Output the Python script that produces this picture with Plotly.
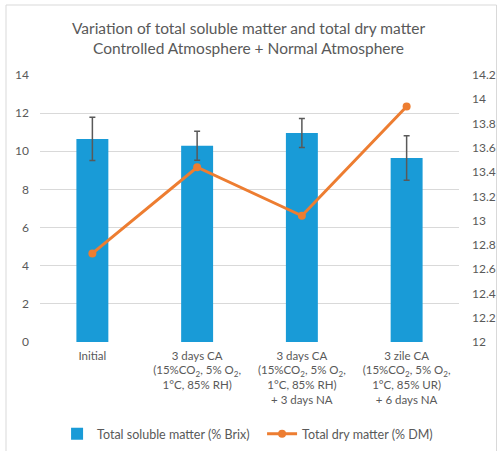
import plotly.graph_objects as go

categories = [
    "Initial",
    "3 days CA<br>(15%CO<sub>2</sub>, 5% O<sub>2</sub>,<br>1°C, 85% RH)",
    "3 days CA<br>(15%CO<sub>2</sub>, 5% O<sub>2</sub>,<br>1°C, 85% RH)<br>+ 3 days NA",
    "3 zile CA<br>(15%CO<sub>2</sub>, 5% O<sub>2</sub>,<br>1°C, 85% UR)<br>+ 6 days NA",
]
soluble = [10.65, 10.29, 10.96, 9.65]
soluble_err = [1.13, 0.76, 0.76, 1.17]
dry = [12.73, 13.44, 13.04, 13.94]

FONT = "Lato"
GRAY = "#595959"
x = [0, 1, 2, 3]

fig = go.Figure()
fig.add_trace(go.Bar(
    x=x, y=soluble, name="Total soluble matter (% Brix)",
    marker=dict(color="#199BD7", line=dict(width=0)),
    width=0.305,
    error_y=dict(type="data", array=soluble_err, color=GRAY, thickness=1.5, width=3),
))
fig.add_trace(go.Scatter(
    x=x, y=dry, name="Total dry matter (% DM)", yaxis="y2",
    mode="lines+markers",
    line=dict(color="#ED7D31", width=3),
    marker=dict(color="#ED7D31", size=8),
))

fig.update_layout(
    width=497, height=451,
    margin=dict(l=40, r=38, t=75, b=109, autoexpand=False),
    paper_bgcolor="white", plot_bgcolor="white",
    font=dict(family=FONT, color=GRAY, size=11),
    title=dict(
        text="Variation of total soluble matter and total dry matter<br>Controlled Atmosphere + Normal Atmosphere",
        x=0.5, xanchor="center", y=1 - 34 / 451, yanchor="top", yref="container",
        font=dict(family=FONT, size=15.5, color=GRAY), automargin=False,
    ),
    xaxis=dict(
        tickmode="array", tickvals=x, ticktext=categories,
        range=[-0.5, 3.5], showgrid=False, showline=False, zeroline=False,
        ticks="", tickfont=dict(size=11.5, color=GRAY), automargin=False,
        ticklabelstandoff=5,
    ),
    yaxis=dict(
        range=[0, 14], dtick=2, tick0=0, showgrid=True, gridcolor="#D9D9D9", gridwidth=1,
        zeroline=False, showline=False, ticks="", tickfont=dict(size=12, color=GRAY),
        ticklabelstandoff=10, automargin=False,
    ),
    yaxis2=dict(
        range=[12, 14.2], dtick=0.2, tick0=12, overlaying="y", side="right",
        showgrid=False, zeroline=False, showline=False, ticks="",
        tickfont=dict(size=12, color=GRAY), ticklabelstandoff=12, automargin=False,
    ),
    legend=dict(
        orientation="h", x=0.53, xanchor="center", y=-0.345, yanchor="middle",
        font=dict(size=12.5, color=GRAY), itemwidth=30, traceorder="normal",
        entrywidth=160, entrywidthmode="pixels",
    ),
    bargap=0.7,
    shapes=[dict(
        type="rect", xref="paper", yref="paper",
        x0=(6 - 40) / 419, x1=(496.5 - 40) / 419,
        y0=(342 - 460) / 267, y1=(342 - 5) / 267,
        line=dict(color="#D9D9D9", width=1), fillcolor="rgba(0,0,0,0)", layer="below",
    )],
)

fig.write_html(
    "out.html",
    config={"displayModeBar": False},
    post_script="document.body.style.margin='0';document.body.style.overflow='hidden';",
)
